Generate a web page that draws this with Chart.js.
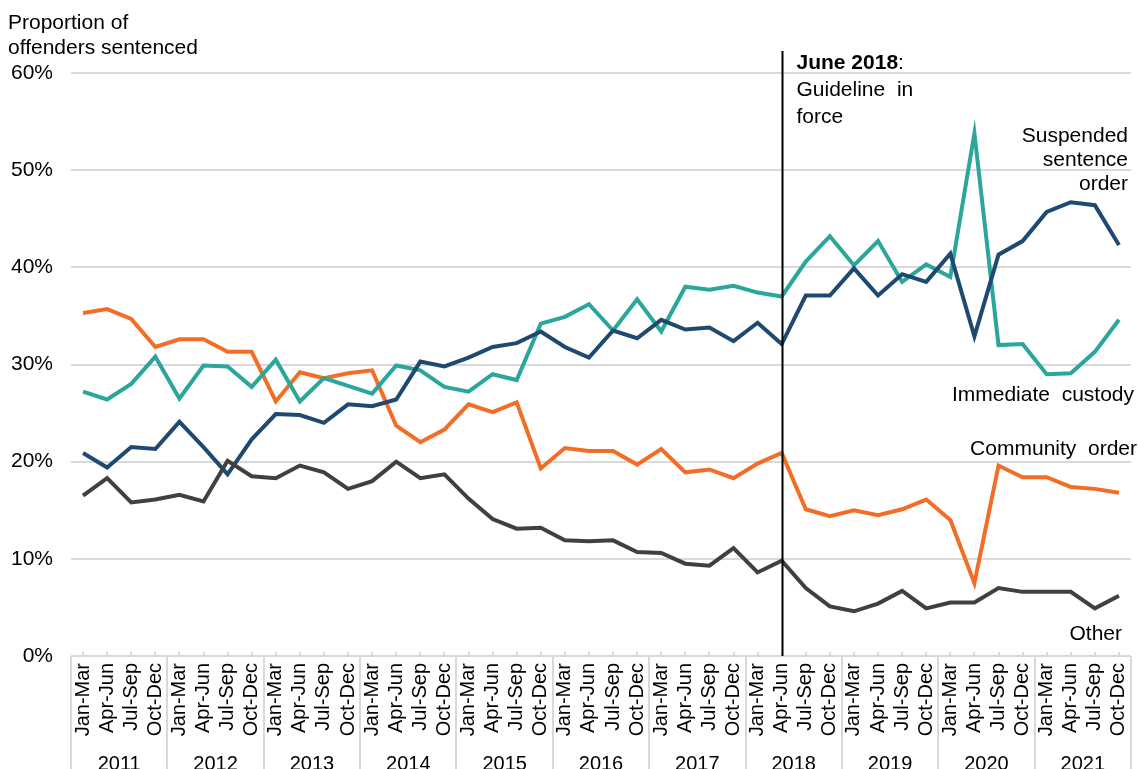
<!DOCTYPE html>
<html>
<head>
<meta charset="utf-8">
<title>Offenders sentenced by outcome</title>
<script src="https://cdn.jsdelivr.net/npm/chart.js@4"></script>
<style>
  body { margin: 0; background: #fff; }
  canvas { display: block; }
</style>
</head>
<body>
<canvas id="myChart" width="1138" height="769"></canvas>
<script>
//////////////////////
// data
//////////////////////

const years = ['2011', '2012', '2013', '2014', '2015', '2016', '2017', '2018', '2019', '2020', '2021'];
const quarterNames = ['Jan-Mar', 'Apr-Jun', 'Jul-Sep', 'Oct-Dec'];

// proportion of offenders sentenced (%), one value per quarter, Jan-Mar 2011 to Oct-Dec 2021
const suspendedSentence = [
  20.9, 19.4, 21.5, 21.3, 24.1, 21.5, 18.7, 22.3, 24.9, 24.8, 24.0, 25.9, 25.7, 26.4, 30.3, 29.8,
  30.7, 31.8, 32.2, 33.4, 31.8, 30.7, 33.5, 32.7, 34.6, 33.6, 33.8, 32.4, 34.3, 32.1,
  37.1, 37.1, 39.9, 37.1, 39.3, 38.5, 41.4, 32.9, 41.3, 42.7, 45.7, 46.7, 46.4, 42.3
];
const immediateCustody = [
  27.2, 26.4, 28.0, 30.8, 26.5, 29.9, 29.8, 27.7, 30.5, 26.2, 28.6, 27.8, 27.0, 29.9, 29.4, 27.7,
  27.2, 29.0, 28.4, 34.2, 34.9, 36.2, 33.5, 36.7, 33.4, 38.0, 37.7, 38.1, 37.4, 37.0,
  40.6, 43.2, 40.2, 42.7, 38.5, 40.3, 39.0, 53.8, 32.0, 32.1, 29.0, 29.1, 31.3, 34.6
];
const communityOrder = [
  35.3, 35.7, 34.7, 31.8, 32.6, 32.6, 31.3, 31.3, 26.2, 29.2, 28.6, 29.1, 29.4, 23.7, 22.0, 23.3,
  25.9, 25.1, 26.1, 19.3, 21.4, 21.1, 21.1, 19.7, 21.3, 18.9, 19.2, 18.3, 19.8, 20.9,
  15.1, 14.4, 15.0, 14.5, 15.1, 16.1, 14.0, 7.5, 19.6, 18.4, 18.4, 17.4, 17.2, 16.8
];
const otherOutcome = [
  16.5, 18.3, 15.8, 16.1, 16.6, 15.9, 20.1, 18.5, 18.3, 19.6, 18.9, 17.2, 18.0, 20.0, 18.3, 18.7,
  16.2, 14.1, 13.1, 13.2, 11.9, 11.8, 11.9, 10.7, 10.6, 9.5, 9.3, 11.1, 8.6, 9.8,
  7.0, 5.1, 4.6, 5.4, 6.7, 4.9, 5.5, 5.5, 7.0, 6.6, 6.6, 6.6, 4.9, 6.2
];

const yTicks = [0, 10, 20, 30, 40, 50, 60];
const guidelineIndex = 29; // Apr-Jun 2018

//////////////////////
// styling
//////////////////////

const fontFamily = '"Liberation Sans", Arial, sans-serif';
const gridColor = '#d9d9d9';
const navy = '#1e4a72';
const teal = '#2ba69a';
const orange = '#f26d26';
const grey = '#404040';

//////////////////////
// functions
//////////////////////

function buildQuarterLabels() {
  const labels = [];
  for (let i = 0; i < years.length; i++) {
    for (let q = 0; q < quarterNames.length; q++) {
      labels.push(quarterNames[q]);
    }
  }
  return labels;
}

function makeLine(label, values, colour) {
  return {
    label: label,
    data: values,
    borderColor: colour,
    backgroundColor: colour,
    borderWidth: 4,
    pointRadius: 0,
    tension: 0,
    xAxisID: 'x',
    yAxisID: 'y'
  };
}

function drawText(ctx, text, x, y, align, weight) {
  ctx.font = (weight || 'normal') + ' 21px ' + fontFamily;
  ctx.textAlign = align;
  ctx.fillText(text, x, y);
}

// separators, guideline and the labels written on the chart
const overlayPlugin = {
  id: 'overlay',
  afterDraw(chart) {
    const ctx = chart.ctx;
    const x = chart.scales.x;
    const area = chart.chartArea;
    ctx.save();

    // year separators below the axis
    ctx.strokeStyle = gridColor;
    ctx.lineWidth = 2;
    const step = (x.right - x.left) / years.length;
    for (let k = 0; k <= years.length; k++) {
      const px = Math.round(x.left + k * step);
      ctx.beginPath();
      ctx.moveTo(px, area.bottom);
      ctx.lineTo(px, chart.height);
      ctx.stroke();
    }
    // small quarter tick marks
    for (let i = 0; i < x.ticks.length; i++) {
      const px = Math.round(x.getPixelForValue(i));
      ctx.beginPath();
      ctx.moveTo(px, area.bottom);
      ctx.lineTo(px, area.bottom - 4);
      ctx.stroke();
    }

    // guideline in force
    const gx = Math.round(x.getPixelForValue(guidelineIndex)) + 0.5;
    ctx.strokeStyle = '#000';
    ctx.lineWidth = 2;
    ctx.beginPath();
    ctx.moveTo(gx, 51);
    ctx.lineTo(gx, area.bottom);
    ctx.stroke();

    ctx.fillStyle = '#000';
    ctx.textBaseline = 'alphabetic';

    // axis title
    drawText(ctx, 'Proportion of', 8, 29, 'left');
    drawText(ctx, 'offenders sentenced', 8, 54, 'left');

    // guideline note
    const noteX = gx + 14;
    drawText(ctx, 'June 2018', noteX, 69, 'left', 'bold');
    ctx.font = 'bold 21px ' + fontFamily;
    const boldWidth = ctx.measureText('June 2018').width;
    drawText(ctx, ':', noteX + boldWidth, 69, 'left');
    drawText(ctx, 'Guideline  in', noteX, 96, 'left');
    drawText(ctx, 'force', noteX, 123, 'left');

    // series labels
    drawText(ctx, 'Suspended', 1128, 142, 'right');
    drawText(ctx, 'sentence', 1128, 166, 'right');
    drawText(ctx, 'order', 1128, 190, 'right');
    drawText(ctx, 'Immediate  custody', 1134, 401, 'right');
    drawText(ctx, 'Community  order', 1137, 455, 'right');
    drawText(ctx, 'Other', 1122, 640, 'right');

    ctx.restore();
  }
};

function renderChart() {
  const data = {
    labels: buildQuarterLabels(),
    datasets: [
      makeLine('Other', otherOutcome, grey),
      makeLine('Suspended sentence order', suspendedSentence, navy),
      makeLine('Immediate custody', immediateCustody, teal),
      makeLine('Community order', communityOrder, orange)
    ]
  };

  const config = {
    type: 'line',
    data: data,
    options: {
      responsive: false,
      devicePixelRatio: 1,
      animation: false,
      layout: {
        padding: { top: 73, right: 7, bottom: 0, left: 0 }
      },
      plugins: {
        legend: { display: false },
        tooltip: { enabled: false }
      },
      scales: {
        x: {
          type: 'category',
          offset: true,
          weight: 0,
          grid: { display: false, drawTicks: false },
          border: { display: false },
          ticks: {
            autoSkip: false,
            minRotation: 90,
            maxRotation: 90,
            padding: 7,
            color: '#000',
            font: { family: fontFamily, size: 20 }
          },
          afterFit(scale) {
            scale.height = 92;
            scale.paddingLeft = 0;
            scale.paddingRight = 0;
          }
        },
        x2: {
          type: 'category',
          labels: years,
          position: 'bottom',
          offset: true,
          weight: 1,
          grid: { display: false, drawTicks: false },
          border: { display: false },
          ticks: {
            padding: 4,
            color: '#000',
            font: { family: fontFamily, size: 20 }
          },
          afterFit(scale) {
            scale.height = 21;
            scale.paddingLeft = 0;
            scale.paddingRight = 0;
          }
        },
        y: {
          min: yTicks[0],
          max: yTicks[yTicks.length - 1],
          grid: { color: gridColor, lineWidth: 2, drawTicks: false },
          border: { display: false },
          afterBuildTicks(scale) { scale.ticks = yTicks.map(v => ({ value: v })); },
          ticks: {
            padding: 18,
            color: '#000',
            font: { family: fontFamily, size: 21 },
            callback: v => v + '%'
          },
          afterFit(scale) { scale.width = 71; }
        }
      }
    },
    plugins: [overlayPlugin]
  };

  const canvasChart = document.getElementById('myChart');
  new Chart(canvasChart, config);
}

renderChart();
</script>
</body>
</html>
